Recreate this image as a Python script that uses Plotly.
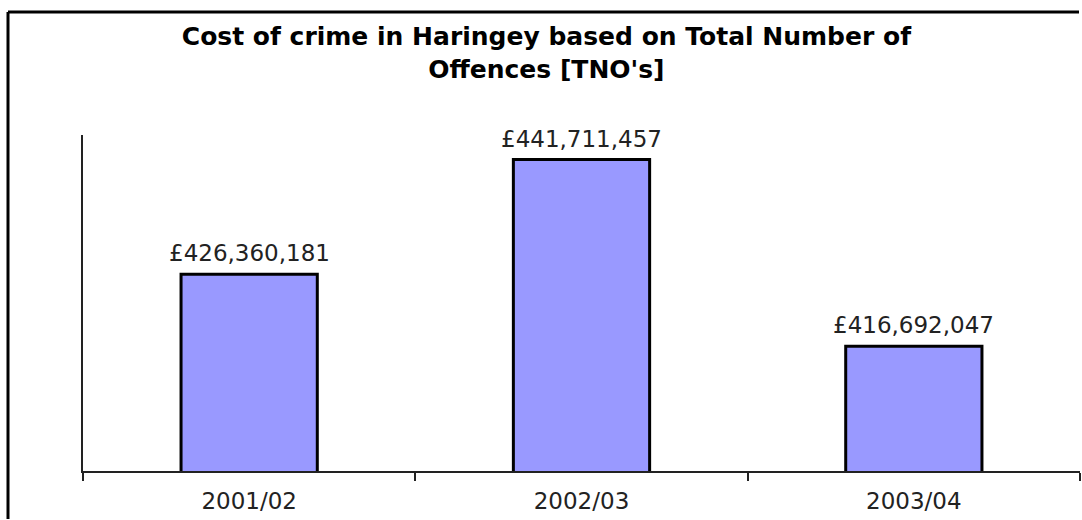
import plotly.graph_objects as go

years = ["2001/02", "2002/03", "2003/04"]
costs = [426360181, 441711457, 416692047]
title_lines = ["Cost of crime in Haringey based on Total Number of", "Offences [TNO's]"]

FONT = "DejaVu Sans"

fig = go.Figure()
fig.add_trace(go.Bar(
    x=years, y=costs, width=0.41,
    marker=dict(color="#9999FF", line=dict(color="#000000", width=3)),
    hoverinfo="skip",
))

for yr, c in zip(years, costs):
    fig.add_annotation(x=yr, y=c, text=f"£{c:,}", showarrow=False,
                       yanchor="bottom", yshift=6,
                       font=dict(family=FONT, size=23, color="#222222"))

# outer frame of the chart area (top and left edges visible in the crop)
fx0 = (8 - 83) / 997
fy1 = (471 - 12) / 336
fig.add_shape(type="line", xref="paper", yref="paper",
              x0=fx0, x1=(1079 - 83) / 997, y0=fy1, y1=fy1,
              line=dict(color="#000000", width=3), layer="below")
fig.add_shape(type="line", xref="paper", yref="paper",
              x0=fx0, x1=fx0, y0=(471 - 519) / 336, y1=fy1,
              line=dict(color="#000000", width=3), layer="below")

fig.update_layout(
    width=1082, height=520,
    margin=dict(l=83, r=2, t=135, b=49),
    paper_bgcolor="white", plot_bgcolor="white",
    showlegend=False,
    title=dict(text="<br>".join(title_lines), x=0.505, xanchor="center",
               y=1 - 45 / 520, yanchor="top", yref="container",
               font=dict(family=FONT, size=25, color="#000000", weight="bold")),
    xaxis=dict(type="category", showline=True, linecolor="#222222", linewidth=2,
               ticks="outside", tickson="boundaries", ticklen=8, tickwidth=2, tickcolor="#222222",
               ticklabelstandoff=8,
               tickfont=dict(family=FONT, size=23, color="#222222"), showgrid=False, zeroline=False),
    yaxis=dict(range=[400e6, 445e6], showline=True, linecolor="#222222", linewidth=2,
               showticklabels=False, ticks="", showgrid=False, zeroline=False),
)

fig.write_html("out.html")
